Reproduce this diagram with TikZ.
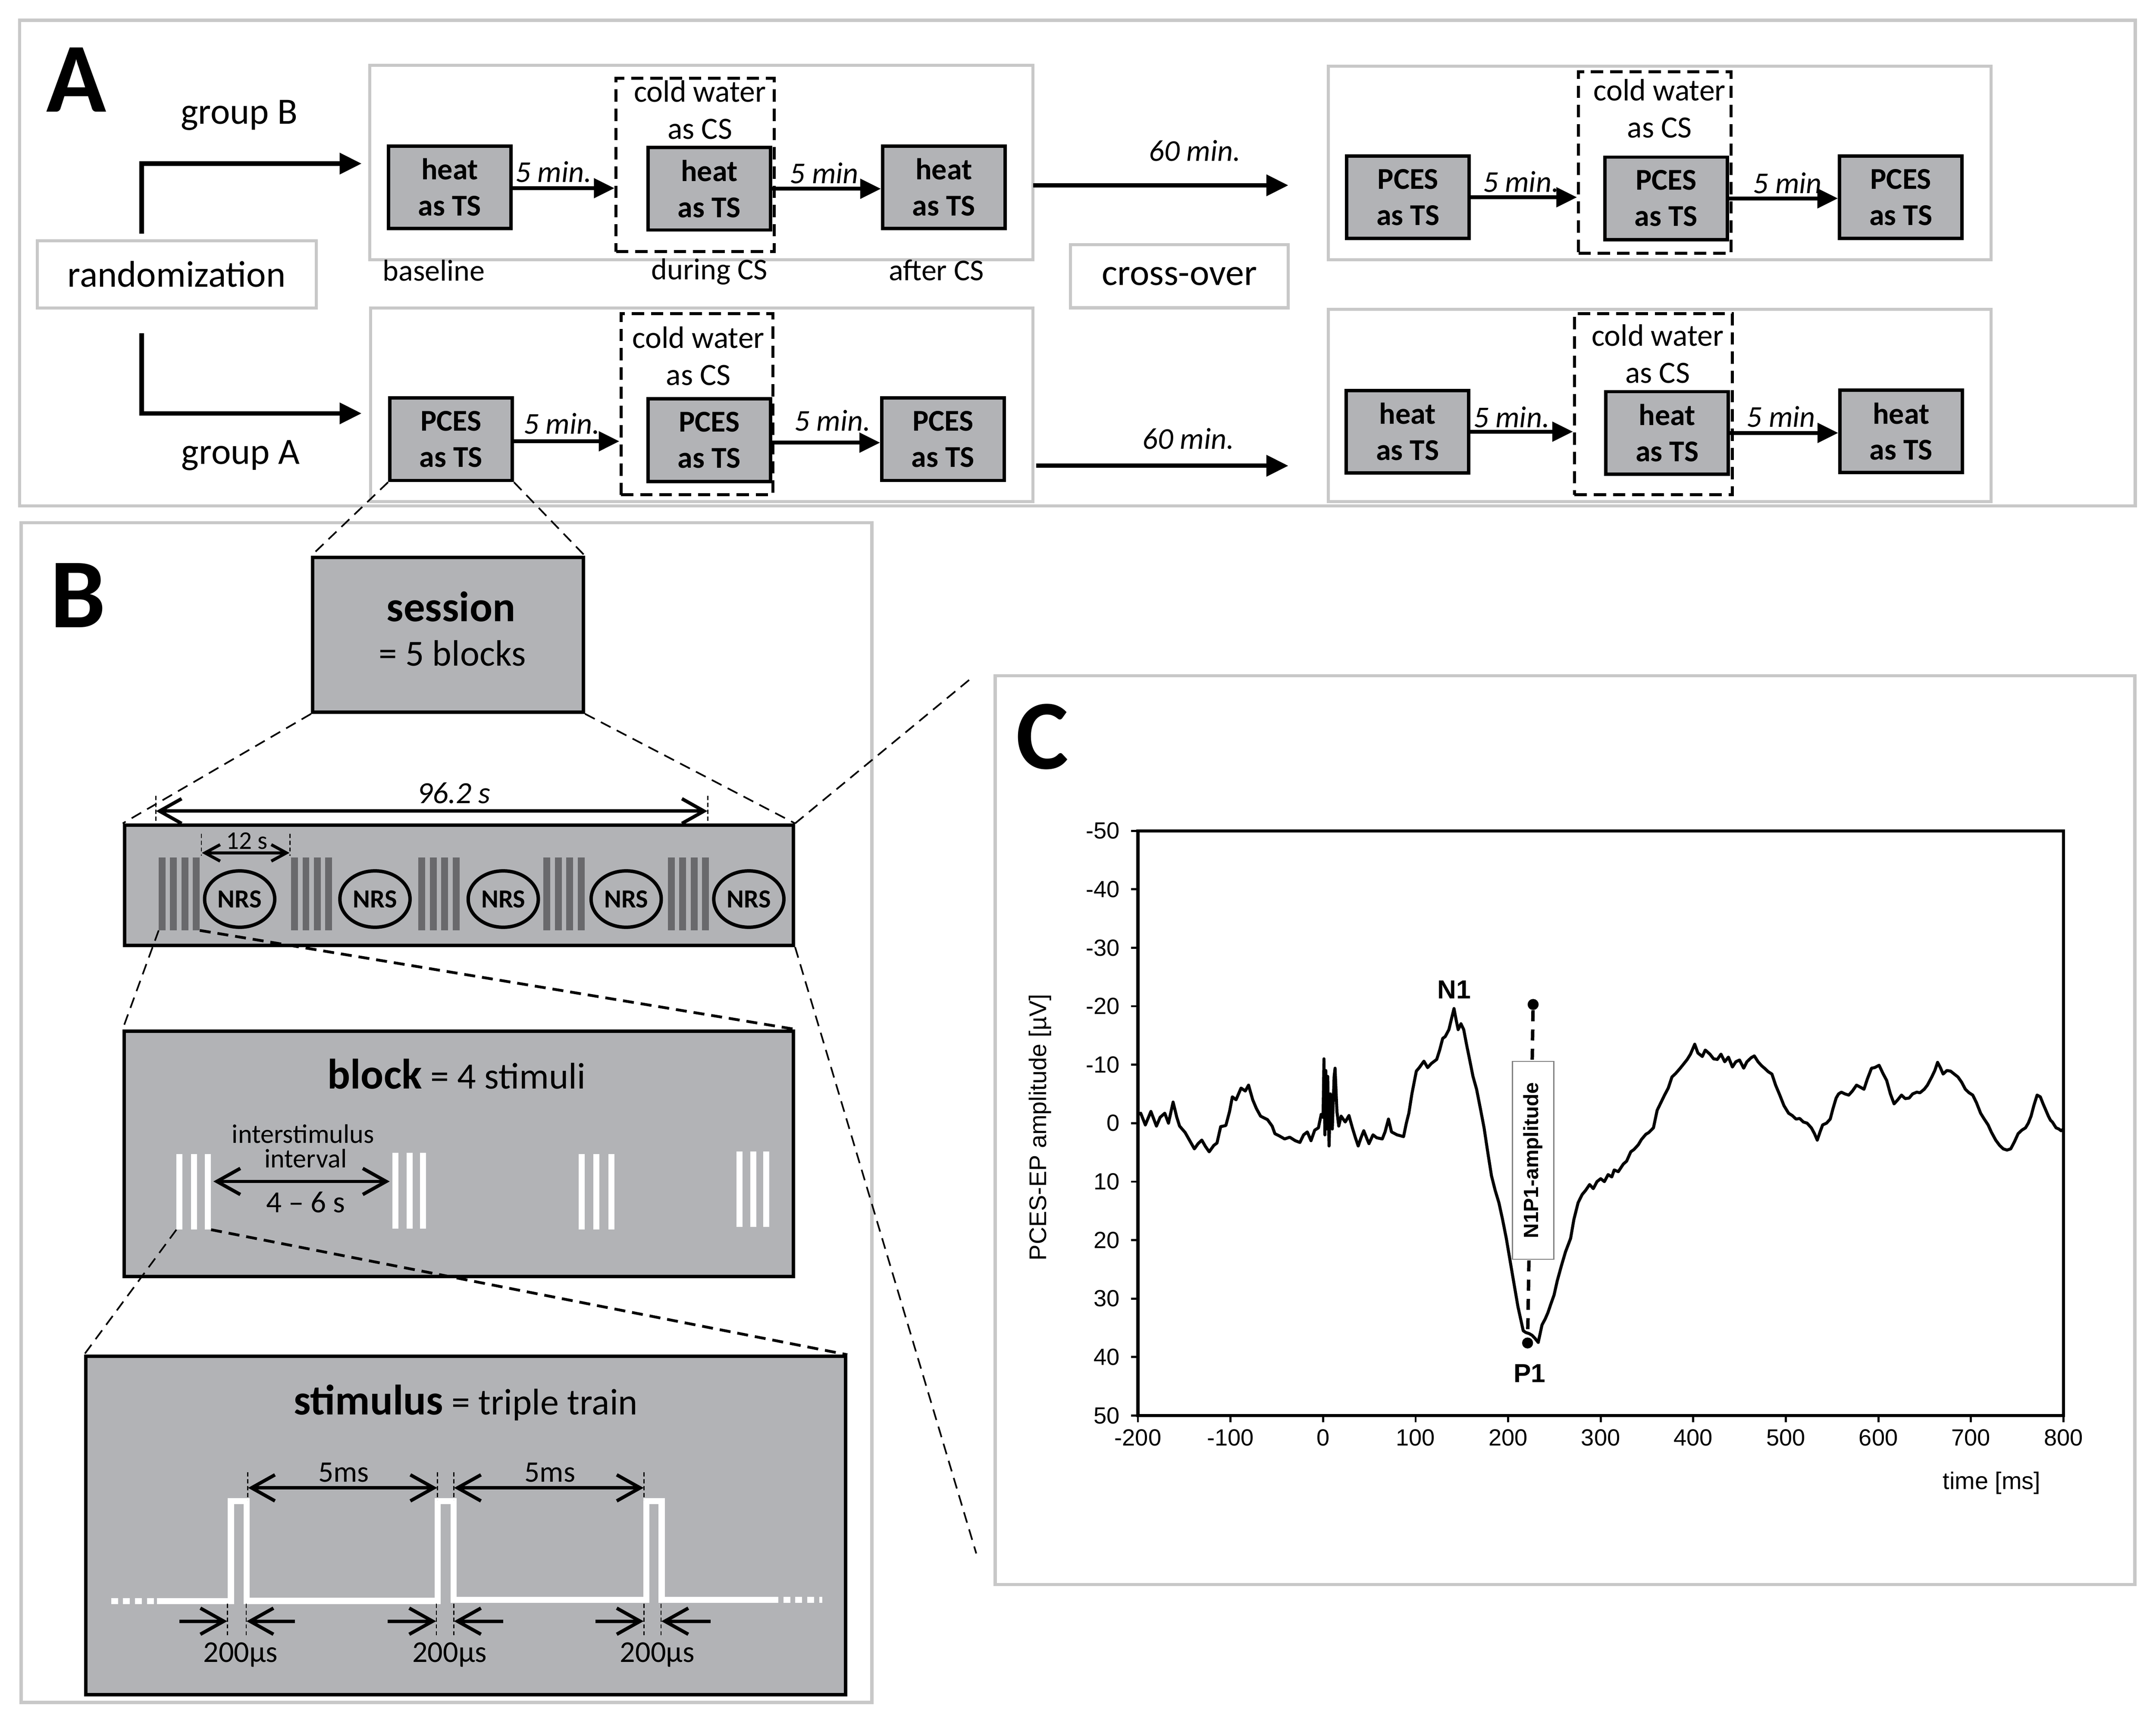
\documentclass[tikz,border=0pt]{standalone}
\usepackage{fontspec}
\setmainfont{Carlito}
\newfontfamily\arialfont{Liberation Sans}
\usetikzlibrary{arrows.meta,calc,shapes.geometric}
\definecolor{boxgray}{RGB}{178,179,182}
\definecolor{panelgray}{RGB}{200,200,200}
\definecolor{stripegray}{RGB}{105,105,108}
\newcommand\fs[2]{\fontsize{#1}{#2}\selectfont}
\begin{document}
\begin{tikzpicture}[x=1pt,y=-1pt,
  panel/.style={draw=panelgray,line width=2.4pt},
  grpbox/.style={draw=panelgray,line width=2.2pt,inner sep=0pt},
  tsbox/.style={draw=black,line width=2.5pt,fill=boxgray,minimum width=89pt,minimum height=60pt,inner sep=0pt,align=center,font=\fs{22}{26.3}\bfseries},
  csbox/.style={draw=black,line width=2.2pt,dash pattern=on 9pt off 5pt,inner sep=0pt},
  cstext/.style={align=center,font=\fs{22.5}{27}},
  lbl/.style={font=\fs{22}{26},anchor=base,inner sep=0pt},
  biglbl/.style={font=\fs{27}{30},inner sep=0pt},
  minlbl/.style={font=\fs{22}{26}\itshape,anchor=base,inner sep=0pt},
  flow/.style={line width=3.2pt,-{Triangle[length=16pt,width=15pt]}},
  stepar/.style={line width=2.8pt,-{Triangle[length=15pt,width=14pt]}},
  zoomthin/.style={line width=1.2pt,dash pattern=on 8pt off 5pt},
  zoomthick/.style={line width=2pt,dash pattern=on 8pt off 5pt},
  letter/.style={font=\fs{72}{76}\bfseries,inner sep=0pt},
  gbox/.style={draw=black,line width=2.5pt,fill=boxgray,inner sep=0pt},
  dimar/.style={line width=2.5pt,{Straight Barb[length=16pt,width=18pt]}-{Straight Barb[length=16pt,width=18pt]}},
  dimsmall/.style={line width=2.2pt,{Straight Barb[length=11pt,width=12pt]}-{Straight Barb[length=11pt,width=12pt]}},
  inar/.style={line width=2.5pt,-{Straight Barb[length=17pt,width=19pt]}},
  guide/.style={line width=0.8pt,dash pattern=on 3pt off 2pt},
  nrs/.style={ellipse,draw=black,line width=2.5pt,minimum width=51pt,minimum height=41pt,inner sep=0pt,font=\fs{19}{22}\bfseries},
  wave/.style={white,line width=4.5pt},
  axnum/.style={font=\arialfont\fs{17}{20},inner sep=0pt},
  dot/.style={circle,fill=black,inner sep=0pt,minimum size=8pt}
]
\useasboundingbox (0,0) rectangle (1568,1254);
\fill[white] (0,0) rectangle (1568,1254);

%================ PANEL A =================
\node[panel,minimum width=1538.7pt,minimum height=353.3pt,inner sep=0pt] (panA) at (783.65,191.35) {};
\node[letter] (letA) at (55.5,58) {A};

\node[grpbox,minimum width=482.3pt,minimum height=141.5pt] (gUL) at (510.2,118.25) {};
\node[grpbox,minimum width=481.8pt,minimum height=141pt] (gLL) at (510.4,294.5) {};
\node[grpbox,minimum width=482pt,minimum height=141pt] (gUR) at (1207,118.5) {};
\node[grpbox,minimum width=482pt,minimum height=140pt] (gLR) at (1207,295) {};

\node[grpbox,minimum width=203pt,minimum height=49pt,font=\fs{27}{30}] (rand) at (128.5,199.5) {randomization};
\node[grpbox,minimum width=158.5pt,minimum height=46pt,font=\fs{27}{30}] (cross) at (857.7,200.9) {cross-over};

\node[biglbl,anchor=base] (grB) at (174,90.3) {group B};
\node[biglbl,anchor=base] (grA) at (175,337.6) {group A};

% dashed CS boxes
\node[csbox,minimum width=115pt,minimum height=126pt] (dUL) at (505.5,120) {};
\node[csbox,minimum width=110.4pt,minimum height=132pt] (dLL) at (506.8,294) {};
\node[csbox,minimum width=111pt,minimum height=132pt] (dUR) at (1203.5,118.3) {};
\node[csbox,minimum width=114.7pt,minimum height=132pt] (dLR) at (1202.4,294) {};
\node[cstext] (cUL) at (509,80) {cold water\\as CS};
\node[cstext] (cLL) at (508,259) {cold water\\as CS};
\node[cstext] (cUR) at (1207,79) {cold water\\as CS};
\node[cstext] (cLR) at (1205.5,257.5) {cold water\\as CS};

% TS boxes
\node[tsbox] (u1) at (327,136.2) {heat\\as TS};
\node[tsbox] (u2) at (515.8,137.3) {heat\\as TS};
\node[tsbox] (u3) at (686.4,136.2) {heat\\as TS};
\node[tsbox] (l1) at (328,319.5) {PCES\\as TS};
\node[tsbox] (l2) at (515.8,320.2) {PCES\\as TS};
\node[tsbox] (l3) at (685.8,319.5) {PCES\\as TS};
\node[tsbox] (r1) at (1024,143.5) {PCES\\as TS};
\node[tsbox] (r2) at (1211.7,144.3) {PCES\\as TS};
\node[tsbox] (r3) at (1382.4,143.5) {PCES\\as TS};
\node[tsbox] (s1) at (1023.6,314) {heat\\as TS};
\node[tsbox] (s2) at (1212.4,314.9) {heat\\as TS};
\node[tsbox] (s3) at (1382.6,313.8) {heat\\as TS};

% step arrows
\draw[stepar] ([yshift=-0.7pt]u1.east) -- ([yshift=-0.7pt]u1.east -| dUL.west);
\draw[stepar] (u2.east) -- (u2.east -| u3.west);
\draw[stepar] ([yshift=-1.5pt]l1.east) -- ([yshift=-1.5pt]l1.east -| dLL.west);
\draw[stepar] ([yshift=-1.8pt]l2.east) -- ([yshift=-1.8pt]l2.east -| l3.west);
\draw[stepar] (r1.east) -- (r1.east -| dUR.west);
\draw[stepar] (r2.east) -- (r2.east -| r3.west);
\draw[stepar] (s1.east) -- (s1.east -| dLR.west);
\draw[stepar] (s2.east) -- (s2.east -| s3.west);

\node[minlbl] (m1) at (402.5,132.5) {5 min.};
\node[minlbl] (m2) at (599.4,133.5) {5 min};
\node[minlbl] (m3) at (408.5,315.6) {5 min.};
\node[minlbl] (m4) at (605.5,313.3) {5 min.};
\node[minlbl] (m5) at (1106.2,139.6) {5 min.};
\node[minlbl] (m6) at (1300,140.6) {5 min};
\node[minlbl] (m7) at (1099.3,310.9) {5 min.};
\node[minlbl] (m8) at (1295.3,310.6) {5 min};

% group arrows
\coordinate (gBs) at (103,170);
\coordinate (gBe) at (263,119);
\coordinate (gAs) at (103,242.5);
\coordinate (gAe) at (263,300.7);
\draw[flow] (gBs) |- (gBe);
\draw[flow] (gAs) |- (gAe);

% 60 min arrows
\coordinate (h1s) at (751.3,134.8);
\coordinate (h1e) at (937,134.8);
\coordinate (h2s) at (753.5,338.8);
\coordinate (h2e) at (937,338.8);
\draw[flow] (h1s) -- (h1e);
\draw[flow] (h2s) -- (h2e);
\node[minlbl] (m60a) at (869,117.2) {60 min.};
\node[minlbl] (m60b) at (864.3,326.6) {60 min.};

\node[lbl] (tb) at (315.5,204.3) {baseline};
\node[lbl] (td) at (516,203.5) {during CS};
\node[lbl] (ta) at (681,204) {after CS};

%================ PANEL B =================
\node[panel,minimum width=618.6pt,minimum height=858.2pt,inner sep=0pt] (panB) at (324.7,809.3) {};
\node[letter] (letB) at (56.7,433) {B};

\node[gbox,minimum width=196.7pt,minimum height=112.4pt] (sess) at (325.85,461.8) {};
\node[font=\fs{31}{34}\bfseries,anchor=base,inner sep=0pt] (sessT) at (328,452) {session};
\node[font=\fs{26.7}{30},anchor=base,inner sep=0pt] (sessN) at (329,484.5) {= 5 blocks};

\node[gbox,minimum width=486.5pt,minimum height=87.5pt] (bar) at (333.75,643.95) {};
\foreach \g in {115.4,211.7,304.3,395.2,485.7}{
  \foreach \k in {0,1,2,3}{
    \fill[stripegray] ({\g+\k*8.3},623.6) rectangle ++(5,53.2);
  }
}
\node[nrs] (n1) at (174.3,654) {NRS};
\node[nrs] (n2) at (272.7,654) {NRS};
\node[nrs] (n3) at (366,654) {NRS};
\node[nrs] (n4) at (455.4,654) {NRS};
\node[nrs] (n5) at (544.6,654) {NRS};

% 96.2 s dimension
\coordinate (d1a) at (113.3,579);
\coordinate (d1b) at (514.7,579);
\draw[guide] (d1a) -- ++(0,22);
\draw[guide] (d1b) -- ++(0,22);
\draw[dimar] (113.5,590) -- (514.5,590);
\node[font=\fs{22.4}{26}\itshape,anchor=base,inner sep=0pt] (t96) at (330,584.5) {96.2 s};
% 12 s
\draw[guide] (146.5,606.5) -- ++(0,16);
\draw[guide] (210.9,606.5) -- ++(0,16);
\draw[dimsmall] (146.8,620.4) -- (210.6,620.4);
\node[font=\fs{18.5}{20},anchor=base,inner sep=0pt] (t12) at (179.5,617.5) {12 s};

% block
\node[gbox,minimum width=486.7pt,minimum height=178.4pt] (block) at (333.75,839.2) {};
\node[anchor=base,inner sep=0pt] (blockT) at (332,792) {\fs{31}{34}\bfseries block\fs{27}{30}\mdseries{} = 4 stimuli};
\foreach \c/\t in {130.5/839.5,141/839.5,151.3/839.5,287.5/838.6,298/838.6,307.6/838.6,423/839.5,433.8/839.5,444.8/839.5,537.7/837.6,547.7/837.6,557.4/837.6}{
  \fill[white] ({\c-2.2},\t) rectangle ++(4.4,55);
}
\node[anchor=base,inner sep=0pt,font=\fs{19.5}{18}] (isi1) at (220.4,831.5) {interstimulus};
\node[anchor=base,inner sep=0pt,font=\fs{19.5}{18}] (isi2) at (222.3,849.3) {interval};
\draw[inar] (219,859.4) -- (155.2,859.4);
\draw[inar] (219,859.4) -- (283.4,859.4);
\node[font=\fs{22.3}{26},anchor=base,inner sep=0pt] (isv) at (222.3,882) {4 -- 6 s};

% stimulus
\node[gbox,minimum width=552.6pt,minimum height=246.1pt] (stim) at (338.7,1109.75) {};
\node[anchor=base,inner sep=0pt] (stimT) at (338.8,1029) {\fs{31}{34}\bfseries stimulus\fs{27}{30}\mdseries{} = triple train};
\draw[wave,dash pattern=on 5pt off 3.7pt] (80.8,1164.7) -- (114,1164.7);
\draw[wave,line join=miter] (114,1164.7) -- (167.9,1164.7) -- (167.9,1092) -- (179.3,1092) -- (179.3,1164.5) -- (318.2,1164.5) -- (318.2,1092) -- (330,1092) -- (330,1163.8) -- (470.1,1163.8) -- (470.1,1092) -- (481.2,1092) -- (481.2,1163.8) -- (561,1163.8);
\draw[wave,dash pattern=on 5pt off 3.7pt] (561,1163.8) -- (598,1163.8);
% 5ms dims
\foreach \x in {180.2,318.2,330,468.3}{ \draw[guide] (\x,1071) -- ++(0,20); }
\draw[dimar,{Straight Barb[length=17pt,width=19pt]}-{Straight Barb[length=17pt,width=19pt]}] (180.4,1082.3) -- (318,1082.3);
\draw[dimar,{Straight Barb[length=17pt,width=19pt]}-{Straight Barb[length=17pt,width=19pt]}] (330.2,1082.3) -- (468.1,1082.3);
\node[font=\fs{21.7}{26},anchor=base,inner sep=0pt] (f1) at (250,1078) {5ms};
\node[font=\fs{21.7}{26},anchor=base,inner sep=0pt] (f2) at (400,1078) {5ms};
% 200 us dims
\foreach \a/\b/\la/\lb in {165.5/179.1/130.5/214.4, 317.4/330/282/366, 468.3/480.8/433/516.8}{
  \draw[guide] (\a,1166.6) -- ++(0,23.3);
  \draw[guide] (\b,1166.6) -- ++(0,23.3);
  \draw[inar] (\la,1179.3) -- (\a-0.2,1179.3);
  \draw[inar] (\lb,1179.3) -- (\b+0.2,1179.3);
}
\node[font=\fs{22}{26},anchor=base,inner sep=0pt] (u200a) at (175,1209) {200µs};
\node[font=\fs{22}{26},anchor=base,inner sep=0pt] (u200b) at (327,1209) {200µs};
\node[font=\fs{22}{26},anchor=base,inner sep=0pt] (u200c) at (478,1209) {200µs};

% zoom connectors
\coordinate (sg1L) at (115.4,676.8);
\coordinate (sg1R) at (145.3,676.8);
\coordinate (wg1L) at (128.3,894.5);
\coordinate (wg1R) at (153.5,894.5);
\coordinate (cz1) at (708,492);
\coordinate (cz2) at (710,1130);
\draw[zoomthin] (l1.south west) -- (sess.north west);
\draw[zoomthin] (l1.south east) -- (sess.north east);
\draw[zoomthin] (sess.south west) -- (bar.north west);
\draw[zoomthin] (sess.south east) -- (bar.north east);
\draw[zoomthin] (sg1L) -- (block.north west);
\draw[zoomthick] (sg1R) -- (block.north east);
\draw[zoomthin] (wg1L) -- (stim.north west);
\draw[zoomthick] (wg1R) -- (stim.north east);
\draw[zoomthin] (bar.north east) -- (cz1);
\draw[zoomthin] (bar.south east) -- (cz2);

%================ PANEL C =================
\node[panel,minimum width=829pt,minimum height=661pt,inner sep=0pt] (panC) at (1138.2,822.1) {};
\node[letter] (letC) at (758,536) {C};

\begin{scope}[shift={(962.2pt,-817pt)},x=0.6731pt,y=-4.253pt]
  \draw[line width=2.2pt] (-200,-50) rectangle (800,50);
  \foreach \v in {-50,-40,...,50}{
    \draw[line width=1.5pt] (-200,\v) -- ++(-5pt,0pt);
    \node[axnum,anchor=east] at ([xshift=-13pt]-200,\v) {\v};
  }
  \foreach \t in {-200,-100,...,800}{
    \draw[line width=1.5pt] (\t,50) -- ++(0pt,-5pt);
    \node[axnum,anchor=north] at ([yshift=-10pt]\t,50) {\t};
  }
  \draw[line width=2.2pt,line join=round] plot coordinates {
(-200,-1.5) (-197,-1.7) (-192,0.3) (-186,-2) (-180,0.5) (-176,-1) (-171,-1.7) (-167,0) (-162,-3.6) (-158,-1) (-155,0.5) (-149,1.6) (-144,3) (-139,4.4) (-135,3.5) (-131,2.9) (-127,4) (-123,4.9) (-118,3.8) (-114.6,3.4) (-110.6,0.6) (-105,0.4) (-101,-2) (-98,-4.5) (-94,-4) (-88.6,-6) (-84,-5.5) (-80.5,-6.5) (-76,-4) (-72,-2.5) (-67.5,-1.2) (-60,-0.6) (-55,0.5) (-52,1.8) (-47,2.2) (-41.5,2.7) (-36,2.4) (-30,3) (-25,3.3) (-21,2) (-17,1.5) (-13,3) (-9,1.2) (-5,0.8) (-2,-1.5) (0,-1) (1,-11) (2,2) (3,-9) (4,1) (5,-8) (6.5,3.9) (8,-5) (9,-3) (10,1) (12,-8) (13,-9.4) (15,-2) (17,0.5) (19.5,-1.2) (24,-0.2) (28,-1.3) (31.7,0.8) (35,2.5) (38,3.9) (41,2.5) (44,1.3) (47,2.5) (49.6,3.5) (54,2) (58,2.5) (64,2.7) (67,1.5) (70.7,-0.7) (74,1.5) (80,2) (87,2.3) (90,0) (92.7,-1.7) (96,-5) (100.8,-8.9) (104,-9.5) (109,-10.6) (113,-9.5) (117,-10.2) (122.8,-10.9) (126,-12.5) (129.3,-14.5) (132,-14.8) (136,-16) (139,-18) (141.5,-19.6) (144,-17.5) (146,-16) (149,-17) (152,-16) (155,-13.5) (157.7,-11.4) (162,-8) (165.9,-5.8) (170,-2.5) (174,0.8) (178,5) (182,9) (186,11.5) (190,13.6) (194,16.5) (198,19.7) (204,25.3) (210.6,31.4) (216.3,35.5) (219,35.8) (222.8,36) (226,36.3) (229,36.8) (232.5,37.5) (236.6,34.5) (240,33.5) (243,32.4) (246,31) (249.6,29.4) (253,27) (257.7,24.3) (262,22) (267.5,19.7) (271,16.5) (275.6,13.6) (280,12.2) (283.7,11.5) (288,10.5) (292,11.2) (296,10) (300,9.5) (304,10) (308,8.8) (312,9.2) (314.6,8) (319,8.3) (324.4,7) (328,6.5) (332.5,4.9) (336,4.5) (340.6,3.7) (344,2.8) (348.8,1.9) (352,1.6) (357,0.8) (361,-2.2) (365,-3.5) (369,-4.8) (373,-6) (377,-7.9) (381,-8.5) (385.4,-9.3) (389,-10) (393.5,-10.9) (397,-11.8) (401.6,-13.5) (405,-12) (409.8,-11.4) (413,-12.5) (418,-11.8) (422,-11) (426,-10.9) (430,-11.8) (434,-10.5) (438,-11.3) (442.3,-9.6) (446,-10.5) (450,-10.8) (454.5,-9.4) (458,-10.5) (462.6,-11.2) (466,-11.5) (470,-10.5) (474,-9.8) (477,-9.4) (481,-8.8) (485,-8.4) (489,-6.5) (493.5,-4.8) (498,-3) (503,-1.7) (507,-1.3) (511,-0.7) (515,-0.8) (519,-0.2) (523,0) (527.6,0.8) (531,1.8) (534,2.9) (537,1.5) (539.8,0.3) (544,0) (548,-0.7) (551,-2.5) (554.4,-4.3) (557,-5) (560,-5.3) (564,-5) (568,-4.8) (572,-5.5) (576.4,-6.5) (580,-6.2) (584.5,-5.8) (588,-7.5) (592.6,-9.4) (596,-9.5) (600.8,-9.9) (605,-8.5) (609,-7.3) (613,-5) (617,-3.3) (621,-4) (625,-4.8) (629,-4.2) (633.3,-4.3) (637,-5) (641.5,-5.3) (645,-5.2) (649.6,-5.8) (653,-6.5) (657.7,-7.9) (661,-9) (664,-10.4) (667,-9.5) (670,-8.4) (674,-9) (678,-8.9) (682,-8.4) (686,-7.9) (690,-7) (694,-5.8) (698,-5.2) (702,-4.8) (706,-3.5) (710.5,-1.7) (714,-0.8) (718.6,0.3) (722,1.5) (726.8,2.9) (731,3.8) (735,4.4) (739,4.6) (743,4.4) (747,3.2) (751,1.8) (755,1.2) (759,0.8) (762,0) (765,-1.2) (768,-3) (771.5,-4.8) (775,-4.5) (778,-3.3) (781,-2.2) (783.7,-1.2) (786,-0.5) (788,-0.2) (792,0.8) (795,1) (797.5,1.3) (800,1)
  };
  \node[dot] (ptop) at (227,-20.3) {};
  \node[dot] (pbot) at (221,37.6) {};
  \draw[line width=2.5pt,dash pattern=on 8pt off 6pt] (ptop) -- (pbot);
  \node[draw=gray,fill=white,line width=0.8pt,minimum width=30pt,minimum height=144pt,inner sep=0pt] (ampbox) at (227,6.35) {};
  \node[rotate=90,font=\arialfont\fs{15}{18}\bfseries,inner sep=0pt] (ampT) at (ampbox.center) {N1P1-amplitude};
  \node[font=\arialfont\fs{19}{22}\bfseries,inner sep=0pt] (N1) at (141.6,-22.8) {N1};
  \node[font=\arialfont\fs{19}{22}\bfseries,inner sep=0pt] (P1) at (223.3,42.8) {P1};
\end{scope}
\node[rotate=90,font=\arialfont\fs{17.5}{20},inner sep=0pt] (ylab) at (756.5,820) {PCES-EP amplitude [µV]};
\node[font=\arialfont\fs{17.5}{20},inner sep=0pt] (xlab) at (1448.5,1078.8) {time [ms]};
\end{tikzpicture}
\end{document}
